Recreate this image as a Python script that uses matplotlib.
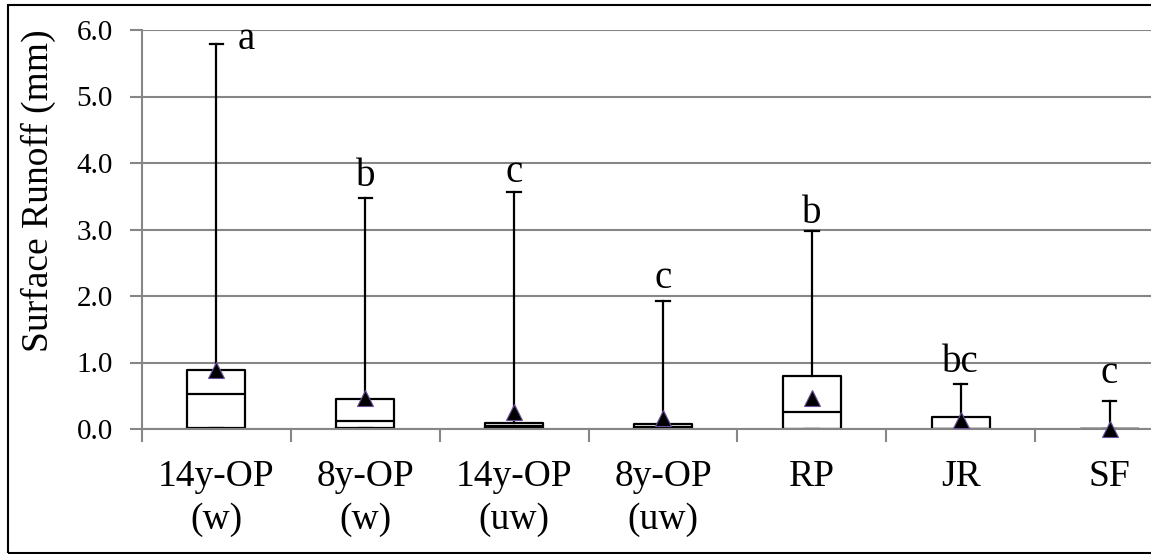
import matplotlib.pyplot as plt
from matplotlib.patches import Rectangle

# Category labels and box statistics (mm)
labels = ['14y-OP\n(w)', '8y-OP\n(w)', '14y-OP\n(uw)', '8y-OP\n(uw)', 'RP', 'JR', 'SF']
q1 = [0.02, 0.02, 0.02, 0.01, 0.0, 0.0, 0.0]
med = [0.52, 0.12, 0.05, 0.03, 0.25, 0.0, 0.0]
q3 = [0.88, 0.45, 0.09, 0.07, 0.79, 0.18, 0.0]
whishi = [5.79, 3.47, 3.56, 1.93, 2.98, 0.67, 0.42]
mean = [0.88, 0.47, 0.25, 0.16, 0.47, 0.13, 0.0]
letters = ['a', 'b', 'c', 'c', 'b', 'bc', 'c']
letter_y = [5.71, 3.65, 3.71, 2.12, 3.10, 0.86, 0.69]

plt.rcParams['font.family'] = ['Liberation Serif', 'DejaVu Serif']

fig = plt.figure(figsize=(11.51, 5.54), dpi=100)
ax = fig.add_axes([142 / 1151, 1 - 429 / 554, 1042 / 1151, 399 / 554])

stats = []
for i in range(len(labels)):
    stats.append({'q1': q1[i], 'med': med[i], 'q3': q3[i],
                  'whislo': q1[i], 'whishi': whishi[i], 'mean': mean[i]})

pos = [i + 0.5 for i in range(len(labels))]
bp = ax.bxp(stats, positions=pos, widths=0.39, showmeans=True, showfliers=False,
            capwidths=0.09,
            boxprops=dict(color='black', linewidth=1.6),
            medianprops=dict(color='black', linewidth=1.6),
            whiskerprops=dict(color='black', linewidth=1.6),
            capprops=dict(color='black', linewidth=1.6),
            meanprops=dict(marker='^', markerfacecolor='black',
                           markeredgecolor='#6b4f9a', markersize=11, markeredgewidth=0.8))
for m in bp['means']:
    m.set_clip_on(False)
    m.set_zorder(5)

for i, t in enumerate(letters):
    if i == 0:
        ax.text(pos[i] + 0.14, letter_y[i], t, fontsize=28, ha='left', va='baseline')
    else:
        ax.text(pos[i], letter_y[i], t, fontsize=28, ha='center', va='baseline')

ax.set_xlim(0, 7)
ax.set_ylim(0, 6)
ax.set_yticks([0, 1, 2, 3, 4, 5, 6])
ax.set_yticklabels(['%.1f' % v for v in [0, 1, 2, 3, 4, 5, 6]], fontsize=21)
ax.set_xticks(pos)
ax.set_xticklabels(labels, fontsize=27, linespacing=1.3)
ax.set_xticks(range(8), minor=True)
ax.tick_params(axis='x', which='major', length=0, pad=22)
ax.tick_params(axis='x', which='minor', length=9, width=1.5, color='#868686', direction='out')
ax.tick_params(axis='y', length=9, width=1.5, color='#868686', pad=12)
ax.yaxis.grid(True, color='#868686', linewidth=1.5)
ax.set_axisbelow(True)
for s in ['top', 'right']:
    ax.spines[s].set_visible(False)
for s in ['left', 'bottom']:
    ax.spines[s].set_color('#868686')
    ax.spines[s].set_linewidth(1.5)

fig.text(38 / 1151, 1 - 191 / 554, 'Surface Runoff (mm)', fontsize=27, rotation=90,
         ha='center', va='center')

# outer frame (cropped on the right)
fig.patches.append(Rectangle((8 / 1151, 1 / 554), 1.1, 548 / 554, transform=fig.transFigure,
                             fill=False, edgecolor='black', linewidth=1.5))

fig.savefig('out.png', dpi=100)
